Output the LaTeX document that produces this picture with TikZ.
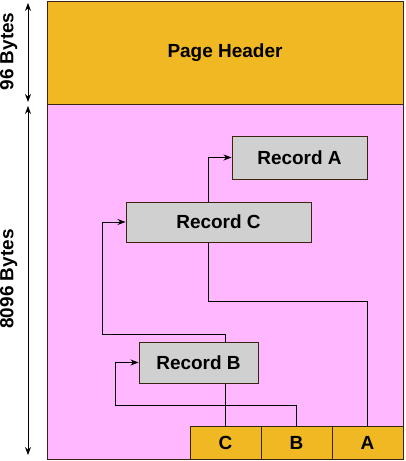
\documentclass[tikz,border=0pt]{standalone}
\usepackage{fontspec}
\setmainfont{Liberation Sans}
\usetikzlibrary{arrows.meta}

\definecolor{hdrorange}{RGB}{240,184,34}
\definecolor{pagepink}{RGB}{255,184,255}
\definecolor{recgray}{RGB}{208,208,208}
\definecolor{edgebrown}{RGB}{56,36,16}

\tikzset{
	boldtext/.style={font=\fontsize{13.5}{16}\selectfont\bfseries},
	record/.style={draw=edgebrown, fill=recgray, line width=0.7pt, inner sep=0pt, boldtext},
	slot/.style={draw=edgebrown, fill=hdrorange, line width=0.7pt, inner sep=0pt,
		minimum width=1.775cm, minimum height=0.825cm, boldtext},
	ptr/.style={line width=0.6pt, -{Stealth[length=2mm, width=1.5mm]}},
	dim/.style={line width=0.6pt, {Stealth[length=2mm, width=1.5mm]}-{Stealth[length=2mm, width=1.5mm]}},
}

\begin{document}
\begin{tikzpicture}
		\useasboundingbox (0, 0) rectangle (10.125, 11.525);

		% page body and header
		\node[draw=edgebrown, fill=pagepink, line width=0.7pt, minimum width=8.9cm, minimum height=8.875cm] (body) at (5.625, 4.4875) {};
		\node[draw=edgebrown, fill=hdrorange, line width=0.7pt, minimum width=8.9cm, minimum height=2.55cm, boldtext] (header) at (5.625, 10.2) {Page Header};

		% sizes
		\coordinate (hdrtop) at (0.7, 11.45);
		\coordinate (hdrbot) at (0.7, 8.975);
		\coordinate (bodytop) at (0.7, 8.875);
		\coordinate (bodybot) at (0.7, 0.15);
		\draw[dim] (hdrtop) -- (hdrbot);
		\draw[dim] (bodytop) -- (bodybot);
		\node[rotate=90, boldtext] (hdrsize) at (0.22, 10.2375) {96 Bytes};
		\node[rotate=90, boldtext] (bodysize) at (0.22, 4.55) {8096 Bytes};

		% slot array
		\foreach \lbl [count=\i] in {C, B, A}
			\node[slot] (slot\lbl) at ({3.8625 + 1.775*\i}, 0.4625) {\lbl};

		% records and pointers
		\node[record, minimum width=3.375cm, minimum height=1.075cm] (recA) at (7.4875, 7.5875) {Record A};
		\coordinate (bendA) at (5.2, 4.0);
		\draw[ptr] (slotA.north) |- (bendA) |- (recA.west);

		\node[record, minimum width=4.625cm, minimum height=1.0cm] (recC) at (5.4625, 5.975) {Record C};
		\coordinate (bendC) at (2.55, 3.175);
		\draw[ptr] (slotC.north) |- (bendC) |- (recC.west);

		\node[record, minimum width=2.975cm, minimum height=1.025cm] (recB) at (4.9625, 2.4625) {Record B};
		\coordinate (bendB) at (2.875, 1.4);
		\draw[ptr] (slotB.north) |- (bendB) |- (recB.west);
	\end{tikzpicture}
\end{document}
